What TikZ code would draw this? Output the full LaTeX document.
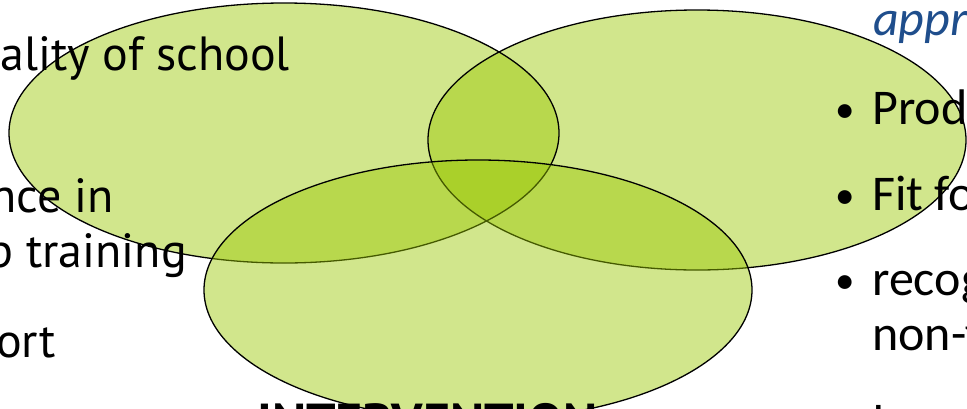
\documentclass[tikz,border=0pt]{standalone}
\usepackage{fontspec}
\setmainfont{PT Sans}
\newfontfamily\calibrifont{Carlito}
\usepackage{tikz}
\usetikzlibrary{positioning}
\definecolor{vennfill}{RGB}{153,199,0}
\definecolor{headblue}{RGB}{31,78,140}
\newcommand\bul{\makebox[37pt][l]{\raisebox{1.5pt}{\scalebox{0.78}{\textbullet}}}}

\begin{document}
\begin{tikzpicture}[x=1pt,y=-1pt,
  blob/.style={fill=vennfill,fill opacity=0.45},
  rim/.style={draw=black,line width=1.3pt},
  lefttxt/.style={anchor=base east,inner sep=0pt,font=\fontsize{48}{58}\selectfont},
  righttxt/.style={anchor=base west,inner sep=0pt,font=\calibrifont\fontsize{50}{60}\selectfont}]
\useasboundingbox (0,0) rectangle (967,408);
\clip (0,0) rectangle (967,408);
% centres of the three sets
\coordinate (setA) at (284,133);
\coordinate (setB) at (697,140);
\coordinate (setC) at (478,290);
% fills of the two upper sets, then their rims
\path[blob] (setA) ellipse [x radius=275pt,y radius=130pt];
\path[blob] (setB) ellipse [x radius=269pt,y radius=130pt];
\path[rim] (setA) ellipse [x radius=275pt,y radius=130pt];
\path[rim] (setB) ellipse [x radius=269pt,y radius=130pt];
\path[blob] (setC) ellipse [x radius=274pt,y radius=130pt];
% left column
\node[lefttxt] (quality) at (290,70) {Quality of school};
\node[lefttxt] (confid) at (114,212) {Confidence in};
\node[lefttxt] (leader) at (187,267) {leadership training};
\node[lefttxt] (support) at (56,357) {Support};
% right column
\node[righttxt,font=\calibrifont\itshape\fontsize{50}{60}\selectfont,text=headblue] (approach) at (873,35) {approach};
\node[righttxt] (products) at (835,124) {\bul Products};
\node[righttxt] (fitfor) at (835,210) {\bul Fit for purpose};
\node[righttxt] (recog) at (835,295) {\bul recognition of};
\node[righttxt] (nonformal) at (872,350) {non-formal};
\node[righttxt] (isnot) at (835,437) {\bul Is not};
% bottom label
\node[anchor=base west,inner sep=0pt,font=\bfseries\fontsize{52}{62}\selectfont] (interv) at (257,440) {INTERVENTION};
\path[rim] (setC) ellipse [x radius=274pt,y radius=130pt];
\end{tikzpicture}
\end{document}
